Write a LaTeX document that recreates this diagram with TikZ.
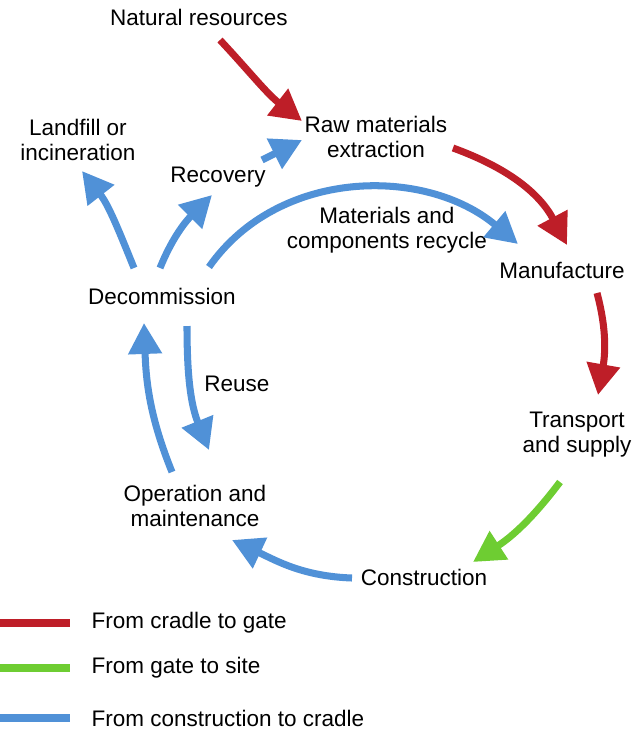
\documentclass[tikz,border=0pt]{standalone}
\usepackage{fontspec}
\setmainfont{Liberation Sans}
\usepackage{tikz}
\usetikzlibrary{arrows.meta,positioning,calc}
\definecolor{cradlered}{RGB}{190,30,40}
\definecolor{sitegreen}{RGB}{110,205,50}
\definecolor{loopblue}{RGB}{80,145,215}

\begin{document}
\begin{tikzpicture}[x=0.025cm,y=0.025cm,
    stage/.style={align=center,inner sep=1pt,font=\fontsize{16}{17.7}\selectfont},
    flow/.style={line width=5pt,-{Triangle[length=22pt,width=23pt]}},
    legline/.style={line width=5pt}]
    \useasboundingbox (0,0) rectangle (636,-731);

    % Stages
    \node[stage] at (199,-17) (natres) {Natural resources};
    \node[stage] at (376,-137) (raw) {Raw materials\\extraction};
    \node[stage] at (562,-270) (manuf) {Manufacture};
    \node[stage] at (577,-435) (transport) {Transport\\and supply};
    \node[stage] at (424,-577) (constr) {Construction};
    \node[stage] at (195,-506) (oper) {Operation and\\maintenance};
    \node[stage] at (162,-296) (decom) {Decommission};
    \node[stage] at (78,-140) (landfill) {Landfill or\\incineration};
    \node[stage] at (218,-177) (recovery) {Recovery};
    \node[stage] at (387,-230) (recycle) {Materials and\\components recycle};
    \node[stage] at (237,-384) (reuse) {Reuse};

    % Cradle to gate
    \draw[flow,cradlered] ([shift={(21,-23)}]natres.center) to[out=-47,in=142] ([shift={(-74,16)}]raw.center);
    \draw[flow,cradlered] ([shift={(77,-11)}]raw.center) to[out=-20,in=118] ([shift={(5,25)}]manuf.center);
    \draw[flow,cradlered] ([shift={(35,-23)}]manuf.center) to[out=-75,in=80] ([shift={(21,40)}]transport.center);

    % Gate to site
    \draw[flow,sitegreen] ([shift={(-17,-47)}]transport.center) to[out=-127,in=33] ([shift={(49,15)}]constr.center);

    % Construction to cradle
    \draw[flow,loopblue] ([shift={(-72,-1)}]constr.center) to[out=178,in=-25] ([shift={(37,-34)}]oper.center);
    \draw[flow,loopblue] ([shift={(-23,34)}]oper.center) to[out=112,in=-88] ([shift={(-18,-27)}]decom.center);
    \draw[flow,loopblue] ([shift={(25,-30)}]decom.center) to[out=-90,in=112] ([shift={(14,56)}]oper.center);
    \draw[flow,loopblue] ([shift={(-28,28)}]decom.center) to[out=112,in=-52] ([shift={(4,-31)}]landfill.center);
    \draw[flow,loopblue] ([shift={(-2,28)}]decom.center) to[out=68,in=-135] ([shift={(-6,-18)}]recovery.center);
    \draw[flow,loopblue] ([shift={(44,17)}]recovery.center) -- ([shift={(-74,-3)}]raw.center);
    \draw[flow,loopblue] ([shift={(47,29)}]decom.center) to[out=55,in=140] ([shift={(-44,26)}]manuf.center);

    % Legend
    \node[stage,anchor=west] at (90,-623) (leg1) {From cradle to gate};
    \node[stage,anchor=west] at (90,-668) (leg2) {From gate to site};
    \node[stage,anchor=west] at (90,-718) (leg3) {From construction to cradle};
    \draw[legline,cradlered] (0,-623) -- (70,-623);
    \draw[legline,sitegreen] (0,-668) -- (70,-668);
    \draw[legline,loopblue] (0,-718) -- (70,-718);
\end{tikzpicture}
\end{document}
